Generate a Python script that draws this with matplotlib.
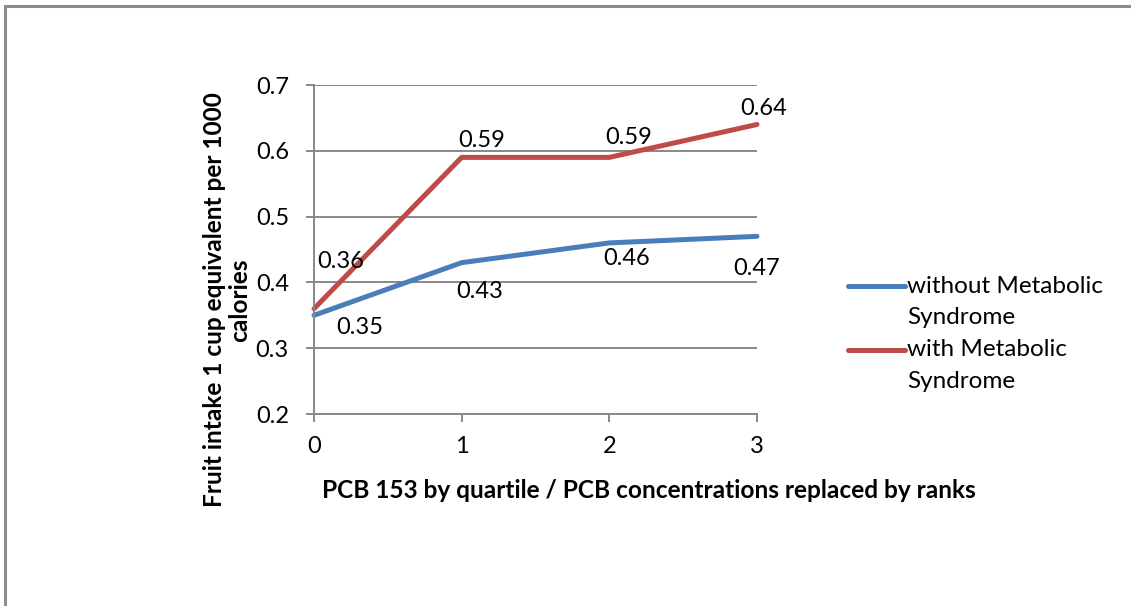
import matplotlib
matplotlib.use("Agg")
import matplotlib.pyplot as plt
from matplotlib.patches import Rectangle
from matplotlib.lines import Line2D

quartiles = [0, 1, 2, 3]
without_ms = [0.35, 0.43, 0.46, 0.47]
with_ms = [0.36, 0.59, 0.59, 0.64]
series_names = ["without Metabolic\nSyndrome", "with Metabolic\nSyndrome"]
yticks = [0.2, 0.3, 0.4, 0.5, 0.6, 0.7]
x_title = "PCB 153 by quartile / PCB concentrations replaced by ranks"
y_title = "Fruit intake 1 cup equivalent per 1000\ncalories"

BLUE = "#4A7EBB"
RED = "#BE4B48"
GRID = "#888888"
FONT = "Lato"
W, H = 1131, 606
LW = 3.6

def fx(px):
    return px / W

def fy(py):
    return 1 - py / H

fig = plt.figure(figsize=(W / 100, H / 100), dpi=100)
fig.patches.append(Rectangle((fx(4.5), -0.01), 1.02, fy(5.5) + 0.01,
                             transform=fig.transFigure, fill=False,
                             edgecolor="#8c8c8c", linewidth=2.2))

ax = fig.add_axes([fx(314), fy(414), 443 / W, 329 / H])
ax.set_xlim(0, 3)
ax.set_ylim(0.2, 0.7)
ax.set_yticks(yticks)
ax.set_yticklabels([f"{v:.1f}" for v in yticks])
ax.set_xticks(quartiles)
for s in ["top", "right"]:
    ax.spines[s].set_visible(False)
for s in ["left", "bottom"]:
    ax.spines[s].set_color(GRID)
    ax.spines[s].set_linewidth(1.4)
ax.grid(axis="y", color=GRID, linewidth=1.4)
ax.set_axisbelow(True)
ax.tick_params(axis="y", length=6, width=1.4, color=GRID, labelsize=17, pad=12)
ax.tick_params(axis="x", length=6, width=1.4, color=GRID, labelsize=17, pad=10, direction="out")
for lab in ax.get_xticklabels() + ax.get_yticklabels():
    lab.set_fontfamily(FONT)

ax.plot(quartiles, without_ms, color=BLUE, linewidth=LW, solid_capstyle="round", clip_on=False)
ax.plot(quartiles, with_ms, color=RED, linewidth=LW, solid_capstyle="round", clip_on=False)

blue_off = [(33, -8.6), (12.7, -21), (12.5, -10.9), (0, -22.8)]
red_off = [(19.4, 33.8), (14.2, 11.8), (13.9, 14), (5, 11.2)]
for x, y, o in zip(quartiles, without_ms, blue_off):
    ax.annotate(f"{y:.2f}", (x, y), xytext=o, textcoords="offset points",
                ha="center", va="center", fontsize=17, family=FONT)
for x, y, o in zip(quartiles, with_ms, red_off):
    ax.annotate(f"{y:.2f}", (x, y), xytext=o, textcoords="offset points",
                ha="center", va="center", fontsize=17, family=FONT)

fig.text(fx(649), fy(490), x_title,
         fontsize=17.6, fontweight="bold", family=FONT, ha="center", va="center")
for line, px in zip(y_title.split("\n"), [215, 240]):
    fig.text(fx(px), fy(300), line, fontsize=17.6, fontweight="bold", family=FONT,
             rotation=90, ha="center", va="center")

# legend (Excel style: handle aligned with first line of a wrapped label)
for color, name, ly in zip([BLUE, RED], series_names, [286, 350]):
    fig.add_artist(Line2D([fx(848), fx(905)], [fy(ly), fy(ly)], color=color,
                          linewidth=LW, solid_capstyle="round",
                          transform=fig.transFigure))
    first, second = name.split("\n")
    fig.text(fx(907), fy(ly), first, fontsize=17.5, family=FONT, ha="left", va="center")
    fig.text(fx(907), fy(ly + 32), second, fontsize=17.5, family=FONT, ha="left", va="center")

fig.savefig("out.png", dpi=100)
